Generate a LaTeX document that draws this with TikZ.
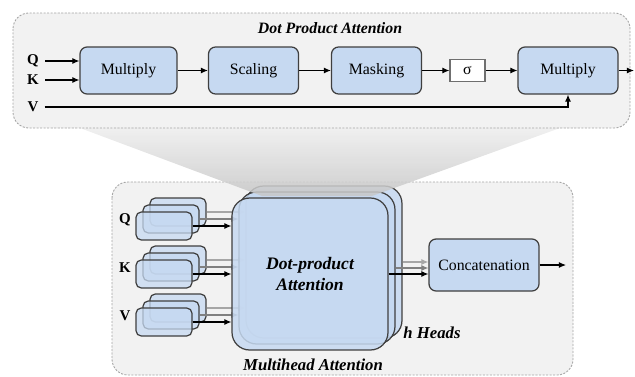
\documentclass[tikz,border=0pt]{standalone}
\usepackage{fontspec}
\setmainfont{Liberation Serif}
\usetikzlibrary{arrows.meta, positioning, calc}
\definecolor{panelgray}{HTML}{F2F2F2}
\definecolor{dashgray}{HTML}{A5A5A5}
\definecolor{boxblue}{HTML}{C6D9F1}
\definecolor{boxline}{HTML}{3F3F3F}
\definecolor{funtop}{HTML}{EDEDED}
\definecolor{funbot}{HTML}{C6C6C6}

\tikzset{
  panel/.style={fill=panelgray, draw=dashgray, line width=0.5pt, dash pattern=on 1.2pt off 0.8pt, rounded corners=9pt},
  opbox/.style={draw=boxline, fill=boxblue, line width=0.7pt, rounded corners=4pt,
    minimum width=1.8cm, minimum height=0.94cm, inner sep=0pt, font=\fontsize{9}{10}\selectfont},
  sigbox/.style={draw=boxline!75, fill=white, line width=0.7pt, minimum width=0.7cm,
    minimum height=0.44cm, inner sep=0pt, font=\fontsize{9}{10}\selectfont},
  inbox/.style={draw=boxline, fill=boxblue, fill opacity=0.75, line width=0.7pt, rounded corners=3pt,
    minimum width=1.12cm, minimum height=0.56cm},
  headbox/.style={draw=boxline, fill=boxblue, fill opacity=0.85, line width=0.7pt, rounded corners=10pt,
    minimum width=3.12cm, minimum height=3.04cm},
  lbl/.style={font=\fontsize{8.5}{10}\selectfont\bfseries},
  ttl/.style={font=\fontsize{9}{10}\selectfont\bfseries\itshape},
  flow/.style={-{Latex[length=4pt,width=3.4pt]}, line width=0.6pt},
}

\begin{document}
\begin{tikzpicture}[x=0.02cm, y=-0.02cm]
\useasboundingbox (0,0) rectangle (635,376);

% --- Multihead attention panel ---
\draw[panel] (112,182) rectangle (573,375);

\node[opbox, minimum width=2.2cm, minimum height=1.04cm] (cat) at (484,265) {Concatenation};
\coordinate (catout) at (566,265);
\draw[flow] (cat.east) -- (catout);

% heads, back layer first
\foreach \k/\ink in {2/gray!70, 1/gray, 0/black} {
  \node[headbox] (dpa\k) at ($(310,274)+(7*\k,-6*\k)$) {};
  \draw[flow, draw=\ink] (dpa\k.east) -- (dpa\k.east -| cat.west);
  \foreach \n/\y in {Q/226, K/274, V/322} {
    \node[inbox] (s\n\k) at ($(164,\y)+(7*\k,-7*\k)$) {};
    \draw[flow, draw=\ink] (s\n\k.east) -- (s\n\k.east -| dpa\k.west);
  }
}
\node[font=\fontsize{10}{12}\selectfont\bfseries\itshape, align=center] (dpatxt) at (dpa0) {Dot-product\\Attention};

\node[lbl] (qlow) at (125,220) {Q};
\node[lbl] (klow) at (125,268) {K};
\node[lbl] (vlow) at (125,316) {V};

\node[ttl, font=\fontsize{9.5}{11}\selectfont\bfseries\itshape] (heads) at (432,333) {h Heads};
\node[ttl, font=\fontsize{9.5}{11}\selectfont\bfseries\itshape] (mhtitle) at (313,365) {Multihead Attention};

% zoom funnel between the panels
\shade[top color=funtop, bottom color=funbot, opacity=0.85]
  (80,128) -- (560,128) -- (372,196) -- (262,196) -- cycle;

% --- Dot product attention panel ---
\draw[panel] (13,13) rectangle (630,128);
\node[ttl] (dptitle) at (330,28) {Dot Product Attention};

\node[opbox, minimum width=1.94cm] (mul1) at (128.5,70.5) {Multiply};
\node[opbox] (scl) at (253.5,70.5) {Scaling};
\node[opbox] (msk) at (376.5,70.5) {Masking};
\node[sigbox] (sig) at (467.5,70.5) {σ};
\node[opbox, minimum width=2cm] (mul2) at (568,70.5) {Multiply};
\coordinate (topout) at (634,70.5);

\node[lbl] (qin) at (33,61) {Q};
\node[lbl] (kin) at (33,80) {K};
\node[lbl] (vin) at (33,107) {V};

\draw[flow] (qin.east) -- (qin.east -| mul1.west);
\draw[flow] (kin.east) -- (kin.east -| mul1.west);
\draw[flow] (vin.east) -| (mul2.south);
\draw[flow] (mul1) -- (scl);
\draw[flow] (scl) -- (msk);
\draw[flow] (msk) -- (sig);
\draw[flow] (sig) -- (mul2);
\draw[flow] (mul2.east) -- (topout);

\end{tikzpicture}
\end{document}
